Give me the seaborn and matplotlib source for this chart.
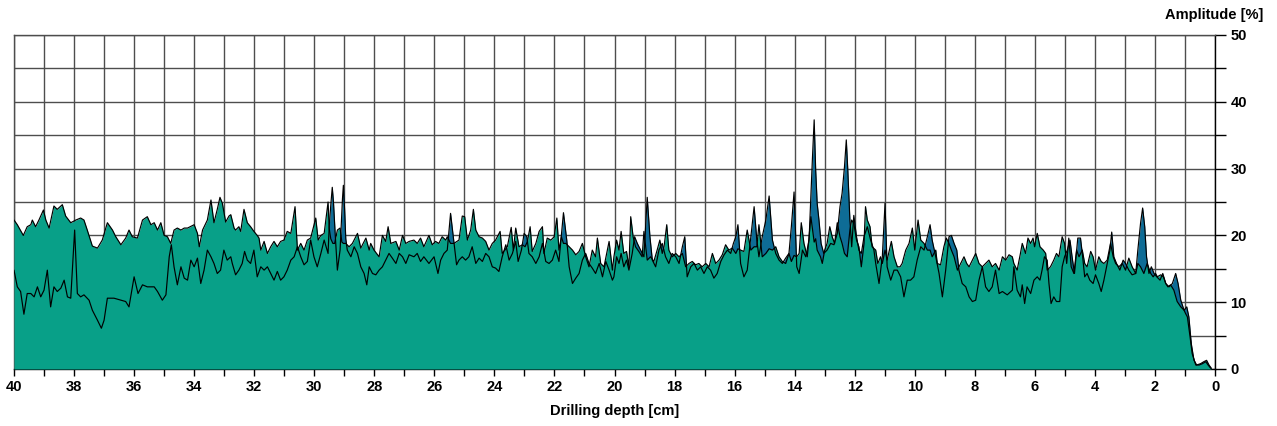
import matplotlib
matplotlib.use("Agg")
import matplotlib.pyplot as plt
import numpy as np
import pandas as pd
import seaborn as sns

sns.set_theme(style="white")
plt.rcParams['font.family'] = ['Liberation Sans', 'DejaVu Sans']
plt.rcParams['text.color'] = 'black'
plt.rcParams['axes.labelcolor'] = 'black'
plt.rcParams['xtick.color'] = 'black'
plt.rcParams['ytick.color'] = 'black'

# series A (teal, drawn on top) : depth [cm], amplitude [%]
depth_a = [40.00, 39.89, 39.69, 39.56, 39.44, 39.39, 39.28, 39.17, 39.02, 38.94, 38.83, 38.67, 38.56, 38.39, 38.28,
           38.11, 37.94, 37.78, 37.67, 37.56, 37.39, 37.22, 37.06, 36.89, 36.72, 36.61, 36.44, 36.28, 36.17, 36.06,
           35.89, 35.72, 35.56, 35.44, 35.33, 35.22, 35.11, 35.00, 34.89, 34.78, 34.67, 34.56, 34.44, 34.33, 34.22,
           34.00, 33.89, 33.83, 33.72, 33.56, 33.44,
           33.34, 33.23, 33.14, 33.06, 32.95, 32.84, 32.78, 32.67, 32.62, 32.51, 32.45, 32.34, 32.23, 32.12, 32.01,
           31.90, 31.84, 31.78, 31.67, 31.56, 31.45, 31.34, 31.23, 31.12, 31.01, 30.90, 30.78, 30.64, 30.56, 30.45,
           30.34, 30.23, 30.12, 29.95, 29.87, 29.78, 29.67, 29.54, 29.50, 29.45, 29.38, 29.32, 29.23, 29.14, 29.08,
           29.03, 28.95,
           28.84, 28.73, 28.56, 28.45, 28.28, 28.17, 28.12, 28.01, 27.84, 27.73, 27.62, 27.54, 27.45, 27.28, 27.17,
           27.06, 26.95, 26.84,
           26.68, 26.57, 26.46, 26.35, 26.18, 26.07, 25.96, 25.85, 25.74, 25.62, 25.57, 25.46, 25.35, 25.18, 25.07,
           24.99, 24.90, 24.79, 24.70, 24.62, 24.51, 24.40, 24.29, 24.18, 24.07, 23.96, 23.81, 23.74, 23.57, 23.44,
           23.37, 23.29, 23.18, 23.07, 22.98, 22.90, 22.81, 22.74, 22.62, 22.51, 22.40, 22.35, 22.24, 22.12, 22.01,
           21.92, 21.85, 21.77, 21.70, 21.62, 21.51, 21.40, 21.29, 21.18, 21.07, 20.96, 20.85, 20.74, 20.63, 20.57,
           20.46, 20.35, 20.18, 20.07,
           20.02, 19.93, 19.85, 19.78, 19.69, 19.60, 19.52, 19.46, 19.38, 19.30, 19.19, 19.08, 19.02, 18.91, 18.80,
           18.69, 18.58, 18.49, 18.41, 18.35, 18.26, 18.19, 18.08, 17.96, 17.85, 17.74, 17.63, 17.52, 17.41, 17.30,
           17.19, 17.08, 16.96, 16.85, 16.74, 16.63, 16.52, 16.41, 16.30, 16.19, 16.08, 15.96, 15.89, 15.80, 15.69,
           15.58, 15.46, 15.35, 15.26, 15.19, 15.08, 14.96, 14.85, 14.74, 14.63, 14.52, 14.41, 14.30, 14.19, 14.11,
           14.02, 13.93, 13.85, 13.78, 13.69, 13.58, 13.46, 13.35,
           13.30, 13.25, 13.14, 13.08, 13.00, 12.92, 12.83, 12.75, 12.67, 12.58, 12.49, 12.42, 12.34, 12.25, 12.16,
           12.10, 12.03, 11.94, 11.86, 11.78, 11.69, 11.64, 11.58, 11.49, 11.42, 11.30, 11.23, 11.14, 11.08, 10.99,
           10.92, 10.78, 10.69, 10.58, 10.49, 10.42, 10.30, 10.19, 10.08, 10.00, 9.89, 9.80, 9.69, 9.58, 9.49,
           9.42, 9.30, 9.25, 9.14, 9.03, 8.95, 8.86, 8.78, 8.69, 8.58, 8.47, 8.36, 8.27, 8.19, 8.08,
           7.97, 7.86, 7.75, 7.64, 7.53, 7.42, 7.31, 7.19, 7.08, 6.97, 6.86, 6.75,
           6.70, 6.59, 6.48, 6.42, 6.31, 6.23, 6.14, 6.06, 6.01, 5.92, 5.83, 5.72, 5.64, 5.59, 5.48,
           5.37, 5.28, 5.20, 5.09, 5.01, 4.94, 4.87, 4.79, 4.70, 4.61, 4.53, 4.42, 4.34, 4.26, 4.14,
           4.06, 3.98, 3.87, 3.79, 3.70, 3.59, 3.48, 3.39, 3.31, 3.20, 3.09, 2.98, 2.87, 2.76, 2.64,
           2.57, 2.48, 2.37, 2.26, 2.14, 2.06, 1.98, 1.92, 1.81, 1.72, 1.64, 1.57, 1.48, 1.37, 1.26,
           1.14, 1.03, 0.98, 0.92, 0.83, 0.76, 0.64, 0.53, 0.42, 0.31, 0.23, 0.14]
amp_a = [22.3, 21.6, 20.0, 21.3, 21.6, 22.3, 21.3, 22.3, 23.8, 22.3, 21.1, 24.4, 23.9, 24.6, 22.9,
         21.9, 22.3, 22.6, 22.3, 20.8, 18.4, 18.1, 19.3, 21.9, 20.8, 19.8, 18.6, 19.6, 20.8, 19.8,
         19.6, 22.3, 22.8, 21.6, 21.9, 20.8, 21.9, 20.0, 19.8, 18.8, 20.8, 21.1, 20.8, 21.1, 21.1,
         21.6, 20.3, 18.3, 20.8, 22.3, 25.3,
         21.9, 23.9, 25.7, 24.8, 22.0, 22.9, 23.1, 21.1, 20.8, 21.3, 20.6, 23.9, 21.9, 21.3, 20.6,
         20.0, 19.6, 17.8, 19.1, 17.3, 18.3, 19.1, 18.3, 19.1, 19.3, 20.6, 20.3, 24.3, 17.8, 18.8,
         17.8, 19.3, 19.6, 22.6, 19.3, 20.0, 20.3, 25.0, 21.0, 19.5, 18.8, 18.8, 20.8, 21.1, 19.0,
         18.8, 18.8,
         18.3, 18.8, 20.3, 18.1, 19.6, 17.8, 18.8, 17.8, 16.8, 20.0, 19.1, 21.3, 18.8, 19.1, 17.8,
         20.0, 18.8, 19.1,
         19.3, 18.8, 19.6, 18.3, 20.0, 18.6, 19.1, 18.8, 19.8, 19.3, 19.8, 18.8, 18.8, 19.3, 22.9,
         22.8, 19.3, 20.8, 23.9, 20.8, 19.8, 19.6, 19.1, 17.8, 18.8, 19.3, 20.6, 17.3, 18.3, 21.2,
         17.8, 21.1, 18.3, 18.6, 18.3, 19.1, 21.3, 17.6, 18.8, 20.6, 21.3, 17.3, 19.6, 19.3, 19.8,
         22.6, 17.8, 19.8, 18.8, 18.8, 18.3, 17.8, 17.1, 17.6, 18.8, 16.8, 15.3, 17.8, 16.8, 19.6,
         15.8, 15.3, 19.1, 14.8,
         16.8, 19.3, 17.8, 20.6, 17.3, 17.6, 15.3, 22.8, 19.8, 18.3, 17.6, 16.8, 20.6, 16.3, 16.8,
         16.1, 17.8, 19.3, 17.3, 18.3, 21.6, 17.8, 16.8, 17.3, 16.8, 17.3, 15.3, 15.8, 16.1, 15.6,
         15.8, 15.3, 15.8, 15.3, 17.3, 15.8, 16.3, 17.1, 18.6, 17.8, 18.1, 17.3, 18.0, 17.8, 17.6,
         20.8, 17.8, 18.3, 18.3, 21.6, 16.8, 17.3, 18.0, 17.8, 18.3, 16.8, 16.1, 15.8, 17.3, 16.1,
         17.0, 16.8, 17.3, 21.9, 18.8, 16.8, 22.8, 19.0,
         19.5, 17.8, 16.8, 15.8, 17.8, 18.8, 21.3, 19.8, 18.8, 21.9, 19.8, 18.8, 17.3, 16.8, 20.8,
         22.3, 21.8, 19.3, 18.3, 15.3, 18.8, 24.3, 22.3, 21.3, 18.3, 17.8, 15.8, 16.8, 15.8, 17.8,
         16.3, 19.1, 16.8, 15.3, 15.3, 15.8, 17.8, 18.8, 21.1, 17.8, 22.3, 19.3, 18.8, 17.8, 17.8,
         16.8, 17.8, 15.8, 15.6, 18.3, 19.6, 18.8, 17.8, 16.8, 14.8, 15.8, 16.8, 15.8, 15.3, 16.3,
         17.3, 15.8, 15.3, 15.8, 16.3, 15.3, 15.8, 14.8, 16.8, 16.3, 17.1, 16.8,
         15.8, 14.8, 17.3, 18.8, 17.3, 19.6, 18.8, 19.6, 18.3, 20.3, 18.3, 17.8, 17.3, 14.8, 15.3,
         16.3, 17.3, 16.8, 19.8, 18.8, 15.8, 19.6, 15.3, 14.3, 17.8, 16.8, 17.8, 15.8, 15.3, 17.6,
         16.8, 14.8, 16.8, 16.1, 15.8, 16.3, 18.8, 16.8, 15.8, 15.3, 15.8, 14.8, 16.6, 15.3, 14.3,
         15.8, 15.3, 14.3, 15.8, 14.3, 13.8, 14.3, 13.8, 14.1, 13.8, 12.8, 12.3, 12.6, 11.8, 10.1,
         9.3, 8.8, 8.3, 7.8, 4.8, 2.3, 0.6, 0.6, 0.8, 1.1, 0.6, 0.1]

# series B (blue, drawn underneath)
depth_b = [40.00, 39.89, 39.78, 39.67, 39.56, 39.44, 39.33, 39.22, 39.11, 39.00, 38.89, 38.78, 38.67, 38.56, 38.44,
           38.33, 38.22, 38.11, 37.98, 37.89, 37.78, 37.67, 37.50, 37.39, 37.22, 37.09, 37.00, 36.89, 36.67, 36.44,
           36.28, 36.17, 36.00, 35.87, 35.72, 35.56, 35.33, 35.22, 35.06, 34.94, 34.83, 34.76, 34.67, 34.56, 34.44,
           34.33, 34.22, 34.11, 34.00, 33.89, 33.78, 33.67, 33.56, 33.44,
           33.34, 33.23, 33.12, 33.01, 32.90, 32.78, 32.73, 32.62, 32.51, 32.40, 32.32, 32.23, 32.12, 32.01, 31.90,
           31.78, 31.67, 31.56, 31.45, 31.34, 31.23, 31.12, 31.01, 30.90, 30.78, 30.67, 30.56, 30.45, 30.34, 30.23,
           30.12, 30.01, 29.90, 29.78, 29.67, 29.54, 29.50, 29.45, 29.40, 29.36, 29.30, 29.23, 29.14, 29.10, 29.06,
           29.03, 28.99, 28.95, 28.90,
           28.78, 28.67, 28.56, 28.45, 28.34, 28.25, 28.17, 28.06, 27.95, 27.84, 27.73, 27.62, 27.51, 27.40, 27.28,
           27.17, 27.06, 26.95, 26.84,
           26.68, 26.57, 26.46, 26.35, 26.18, 26.01, 25.88, 25.79, 25.68, 25.57, 25.46, 25.37, 25.26, 25.18, 25.07,
           24.96, 24.85, 24.74, 24.62, 24.51, 24.40, 24.29, 24.18, 24.07, 23.96, 23.85, 23.74, 23.62, 23.51, 23.40,
           23.29, 23.21, 23.10, 23.01, 22.92, 22.85, 22.74, 22.62, 22.51, 22.40, 22.29, 22.18, 22.07, 21.96, 21.85,
           21.70, 21.59, 21.51, 21.40, 21.29, 21.18, 21.07, 20.96, 20.85, 20.74, 20.63, 20.51, 20.40, 20.29, 20.18,
           20.07,
           20.02, 19.93, 19.85, 19.78, 19.69, 19.60, 19.52, 19.41, 19.33, 19.24, 19.13, 19.02, 18.91, 18.82, 18.74,
           18.63, 18.52, 18.41, 18.30, 18.19, 18.08, 17.96, 17.85, 17.74, 17.66, 17.58, 17.46, 17.35, 17.24, 17.13,
           17.02, 16.91, 16.80, 16.69, 16.58, 16.46, 16.35, 16.24, 16.13, 16.04, 15.96, 15.89, 15.80, 15.69, 15.58,
           15.46, 15.35, 15.26, 15.19, 15.08, 14.96, 14.85, 14.74, 14.63, 14.52, 14.41, 14.30, 14.19, 14.11, 14.02,
           13.93, 13.85, 13.74, 13.63, 13.52, 13.41, 13.35,
           13.30, 13.25, 13.19, 13.12, 13.03, 12.92, 12.80, 12.69, 12.58, 12.49, 12.42, 12.34, 12.28, 12.23, 12.16,
           12.10, 12.03, 11.94, 11.86, 11.78, 11.69, 11.58, 11.47, 11.36, 11.30, 11.19, 11.08, 10.99, 10.92, 10.80,
           10.69, 10.58, 10.47, 10.36, 10.25, 10.14, 10.03, 9.92, 9.80, 9.69, 9.58, 9.49, 9.42, 9.30, 9.19,
           9.08, 8.97, 8.86, 8.78, 8.69, 8.60, 8.53, 8.42, 8.30, 8.19, 8.08, 7.97, 7.86, 7.75, 7.64,
           7.53, 7.42, 7.31, 7.19, 7.08, 6.92, 6.75,
           6.70, 6.59, 6.48, 6.42, 6.34, 6.26, 6.14, 6.03, 5.92, 5.83, 5.76, 5.68, 5.59, 5.53, 5.46,
           5.37, 5.28, 5.17, 5.09, 5.01, 4.92, 4.83, 4.76, 4.68, 4.57, 4.48, 4.42, 4.34, 4.26, 4.17,
           4.06, 3.98, 3.87, 3.79, 3.70, 3.59, 3.50, 3.44, 3.37, 3.28, 3.17, 3.06, 2.98, 2.87, 2.76,
           2.64, 2.57, 2.48, 2.41, 2.34, 2.28, 2.20, 2.12, 2.03, 1.94, 1.83, 1.74, 1.64, 1.53, 1.42,
           1.31, 1.23, 1.14, 1.03, 0.94, 0.87, 0.79, 0.70, 0.61, 0.48, 0.37, 0.28, 0.20, 0.12]
amp_b = [14.8, 12.3, 11.6, 8.2, 11.3, 11.3, 10.8, 12.3, 10.8, 11.8, 14.8, 9.3, 12.3, 11.6, 12.1,
         13.3, 10.8, 10.6, 20.8, 11.3, 10.8, 11.1, 10.3, 8.8, 7.3, 6.1, 7.3, 10.6, 10.6, 10.3,
         10.1, 9.3, 13.8, 11.3, 12.6, 12.3, 12.3, 11.6, 10.3, 11.1, 16.8, 18.6, 15.3, 12.6, 15.3,
         13.6, 13.3, 16.3, 15.3, 16.6, 12.8, 14.8, 17.8, 16.8,
         15.8, 14.3, 14.8, 17.8, 16.3, 16.8, 15.8, 14.1, 14.8, 15.8, 17.6, 16.3, 15.8, 17.8, 13.8,
         15.3, 14.8, 15.3, 14.3, 13.3, 14.6, 13.3, 13.8, 14.8, 16.3, 16.8, 18.3, 16.8, 15.6, 16.1,
         19.3, 16.8, 15.3, 17.3, 19.3, 17.3, 21.5, 24.5, 27.2, 25.0, 20.0, 14.8, 17.8, 21.5, 25.5,
         27.5, 24.0, 19.5, 17.8,
         16.8, 18.3, 17.3, 15.3, 14.3, 12.6, 15.3, 14.3, 14.1, 14.8, 15.3, 16.3, 17.3, 16.6, 15.8,
         17.3, 16.8, 15.8, 17.1,
         16.8, 17.3, 16.1, 16.8, 15.8, 16.8, 14.3, 16.3, 17.3, 17.8, 23.3, 19.8, 15.6, 16.3, 16.8,
         16.3, 16.8, 18.3, 15.8, 16.6, 16.1, 17.3, 16.8, 15.3, 15.1, 14.6, 16.8, 18.6, 16.3, 17.3,
         19.1, 16.1, 17.8, 20.3, 19.8, 17.3, 16.8, 15.8, 16.8, 18.8, 16.1, 15.8, 16.3, 17.8, 16.1,
         23.4, 19.3, 15.3, 12.8, 13.6, 14.3, 16.3, 17.3, 15.8, 15.1, 14.3, 15.8, 13.8, 16.1, 14.8,
         13.3,
         13.8, 16.8, 15.8, 17.3, 15.3, 16.3, 14.8, 17.3, 19.8, 18.8, 17.8, 16.8, 25.7, 19.8, 16.3,
         15.3, 17.8, 18.8, 16.8, 15.8, 17.3, 16.8, 15.8, 18.3, 19.8, 13.8, 15.3, 15.8, 14.8, 15.3,
         14.3, 15.3, 14.8, 13.6, 14.3, 16.1, 17.1, 17.8, 17.3, 18.8, 19.8, 21.6, 15.8, 13.8, 14.8,
         19.8, 24.3, 19.3, 16.8, 19.8, 22.3, 25.9, 19.3, 17.3, 16.3, 15.8, 16.6, 17.3, 21.3, 26.5,
         15.3, 14.3, 17.8, 16.8, 19.3, 31.3, 37.3,
         29.8, 24.8, 22.3, 18.8, 17.3, 17.8, 18.8, 18.6, 20.3, 24.3, 26.3, 30.3, 34.3, 29.8, 22.3,
         18.3, 23.0, 19.8, 17.8, 17.3, 19.8, 21.3, 19.3, 17.8, 15.8, 12.8, 16.8, 24.8, 15.3, 13.3,
         14.8, 14.8, 13.8, 10.8, 13.3, 13.3, 13.8, 16.3, 18.3, 17.8, 19.8, 21.6, 19.3, 16.8, 14.3,
         10.8, 14.8, 19.8, 20.0, 18.8, 17.8, 14.8, 12.8, 12.3, 10.8, 10.1, 10.3, 13.3, 15.3, 12.3,
         11.6, 12.3, 14.8, 11.3, 11.6, 11.1, 11.8,
         15.3, 11.8, 10.8, 12.6, 9.8, 12.3, 11.3, 13.3, 13.8, 13.3, 14.8, 16.8, 16.3, 12.8, 9.8,
         10.8, 10.1, 10.1, 15.3, 16.8, 17.8, 19.3, 16.8, 14.3, 19.6, 19.6, 17.3, 13.8, 14.3, 13.3,
         12.8, 14.1, 12.8, 11.6, 13.3, 15.8, 17.8, 20.5, 16.8, 15.8, 14.8, 16.3, 15.8, 14.8, 14.1,
         14.3, 17.8, 21.8, 24.1, 21.3, 16.8, 14.3, 15.3, 14.3, 13.8, 13.3, 14.3, 12.8, 12.3, 12.8,
         14.3, 12.8, 10.3, 8.8, 9.3, 7.8, 3.8, 1.3, 0.6, 0.8, 1.1, 1.3, 0.6, 0.1]

df_a = pd.DataFrame({"depth": depth_a, "amp": amp_a})
df_b = pd.DataFrame({"depth": depth_b, "amp": amp_b})

teal = "#08a088"
blue = "#0e6c96"
grid_col = "#4d4d4d"

fig = plt.figure(figsize=(12.77, 4.26), dpi=100)
ax = fig.add_axes([14 / 1277, 57 / 426, (1215 - 14) / 1277, (369 - 35) / 426])

ax.fill_between(df_b["depth"], df_b["amp"], 0, color=blue, lw=0, zorder=2)
ax.fill_between(df_a["depth"], df_a["amp"], 0, color=teal, lw=0, zorder=3)
sns.lineplot(data=df_b, x="depth", y="amp", ax=ax, color="black", lw=0.85,
             estimator=None, sort=False, zorder=4)
sns.lineplot(data=df_a, x="depth", y="amp", ax=ax, color="black", lw=0.85,
             estimator=None, sort=False, zorder=5)

ax.set_xlim(40, 0)
ax.set_ylim(0, 50)
ax.set_xticks(np.arange(0, 41, 2))
ax.set_xticks(np.arange(0, 41, 1), minor=True)
ax.set_yticks(np.arange(0, 51, 10))
ax.set_yticks(np.arange(0, 51, 5), minor=True)
ax.yaxis.tick_right()
ax.set_axisbelow(True)
ax.grid(True, which="both", color=grid_col, lw=1.0)

ax.tick_params(axis="both", which="both", direction="out", color="black",
               labelcolor="black", length=5, width=1, labelsize=10.5, pad=3)
ax.tick_params(axis="y", which="both", left=False, right=True, length=8)
ax.tick_params(axis="x", which="both", bottom=True, length=5)
for lab in ax.get_xticklabels() + ax.get_yticklabels():
    lab.set_fontweight("bold")

for s in ["left", "top"]:
    ax.spines[s].set_color(grid_col)
    ax.spines[s].set_linewidth(1.0)
for s in ["right", "bottom"]:
    ax.spines[s].set_color("black")
    ax.spines[s].set_linewidth(1.0)

ax.set_xlabel("Drilling depth [cm]", fontsize=10.5, fontweight="bold",
              color="black", labelpad=7)
ax.set_ylabel("")
fig.text(1263 / 1277, 1 - 15 / 426, "Amplitude [%]", ha="right", va="center",
         fontsize=10.5, fontweight="bold", color="black")

fig.savefig("out.png", dpi=100)
